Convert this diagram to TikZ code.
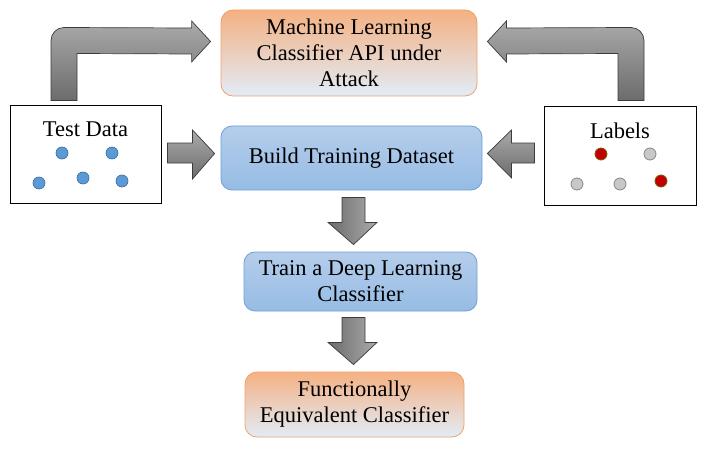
\documentclass[tikz,border=0pt]{standalone}
\usepackage{fontspec}
\setmainfont{Liberation Serif}
\usepackage{xcolor}
\usepackage{tikz}
\usetikzlibrary{calc, positioning}
\definecolor{apiorange}{RGB}{244,177,131}
\definecolor{apimid}{RGB}{240,190,155}
\definecolor{palebottom}{RGB}{226,236,247}
\definecolor{orangeedge}{RGB}{240,160,105}
\definecolor{bluetop}{RGB}{181,205,235}
\definecolor{bluebottom}{RGB}{150,188,228}
\definecolor{blueedge}{RGB}{110,160,215}
\definecolor{arrowlight}{RGB}{170,170,170}
\definecolor{arrowdark}{RGB}{108,108,108}
\definecolor{arrowedge}{RGB}{60,60,60}
\definecolor{dotblue}{RGB}{91,155,213}
\definecolor{dotblueedge}{RGB}{55,105,155}
\definecolor{dotred}{RGB}{192,0,0}
\definecolor{dotrededge}{RGB}{130,90,0}
\definecolor{dotgray}{RGB}{200,200,200}
\definecolor{dotgrayedge}{RGB}{135,135,135}
\begin{document}
\begin{tikzpicture}[
    x=1pt, y=-1pt,
    every node/.style={font=\fontsize{22.5}{26}\selectfont, align=center, inner sep=0pt},
    attackbox/.style={rectangle, rounded corners=12pt, draw=orangeedge, line width=0.8pt,
        top color=apiorange, middle color=apimid, bottom color=palebottom},
    stepblue/.style={rectangle, rounded corners=11pt, draw=blueedge, line width=0.8pt,
        top color=bluetop, bottom color=bluebottom},
    databox/.style={rectangle, draw=black, line width=1pt, fill=white},
    blockarrow/.style={draw=arrowedge, line width=0.7pt, top color=arrowlight, bottom color=arrowdark},
    downarrow/.style={draw=arrowedge, line width=0.7pt, left color=arrowdark, right color=arrowlight},
    bluedot/.style={fill=dotblue, draw=dotblueedge, line width=0.6pt},
    reddot/.style={fill=dotred, draw=dotrededge, line width=0.8pt},
    graydot/.style={fill=dotgray, draw=dotgrayedge, line width=0.8pt}
]
\useasboundingbox (0,0) rectangle (705,452);

% boxes
\node[attackbox, minimum width=256pt, minimum height=86pt] (api) at (349,53)
    {Machine Learning\\Classifier API under\\Attack};
\node[stepblue, minimum width=261pt, minimum height=64pt] (build) at (351.5,158) {Build Training Dataset};
\node[stepblue, minimum width=233pt, minimum height=59pt] (train) at (360.5,281.5) {Train a Deep Learning\\Classifier};
\node[attackbox, minimum width=219pt, minimum height=65pt] (equiv) at (354.5,404.5) {Functionally\\Equivalent Classifier};

\node[databox, minimum width=151pt, minimum height=97pt] (test) at (85.5,154.5) {};
\node[databox, minimum width=152pt, minimum height=98pt] (labels) at (620,156) {};
\node (testname) at ($(test.north)+(0,24)$) {Test Data};
\node (labelsname) at ($(labels.north)+(0,24)$) {Labels};

% dots
\foreach \px/\py in {62/153, 112/153, 39/183, 83/178, 122/181}
    \draw[bluedot] (\px,\py) circle (6pt);
\foreach \px/\py in {601/154, 661/181}
    \draw[reddot] (\px,\py) circle (6pt);
\foreach \px/\py in {650/154, 577/184, 620/184}
    \draw[graydot] (\px,\py) circle (6pt);

% bent arrows to the API
\draw[blockarrow] ($(test.north)+(-34.5,-5)$) -- ++(0,-60) arc[start angle=180, end angle=90, radius=13pt]
    -- ($(api.west)+(-29,-25)$) -- ++(0,-7) -- ($(api.west)+(-10,-11.5)$) -- ($(api.west)+(-29,9)$)
    -- ++(0,-8) -- ($(test.north)+(-8.5,-52)$) -- ($(test.north)+(-8.5,-5)$) -- cycle;
\draw[blockarrow] ($(labels.north)+(24,-6)$) -- ++(0,-60) arc[start angle=0, end angle=90, radius=13pt]
    -- ($(api.east)+(29,-25)$) -- ++(0,-7) -- ($(api.east)+(10,-11.5)$) -- ($(api.east)+(29,9)$)
    -- ++(0,-8) -- ($(labels.north)+(-2,-53)$) -- ($(labels.north)+(-2,-6)$) -- cycle;

% straight arrows into the dataset
\draw[blockarrow] ($(test.east)+(6,-11.5)$) -- ++(25,0) -- ++(0,-13) -- ($(build.west)+(-6,-4.5)$)
    -- ($(test.east)+(31,24.5)$) -- ++(0,-16) -- ++(-25,0) -- cycle;
\draw[blockarrow] ($(labels.west)+(-9,-13)$) -- ++(-23,0) -- ++(0,-13) -- ($(build.east)+(5,-4.5)$)
    -- ($(labels.west)+(-32,22)$) -- ++(0,-15) -- ++(23,0) -- cycle;

% downward arrows
\draw[downarrow] ($(build.south)+(-9.5,7)$) -- ++(23,0) -- ++(0,25) -- ++(12,0)
    -- ($(train.north)+(-7,-7)$) -- ($(build.south)+(-23.5,32)$) -- ++(14,0) -- cycle;
\draw[downarrow] ($(train.south)+(-18.5,6)$) -- ++(23,0) -- ++(0,25) -- ++(12,0)
    -- ($(equiv.north)+(-1,-7)$) -- ($(train.south)+(-32.5,31)$) -- ++(14,0) -- cycle;
\end{tikzpicture}
\end{document}
